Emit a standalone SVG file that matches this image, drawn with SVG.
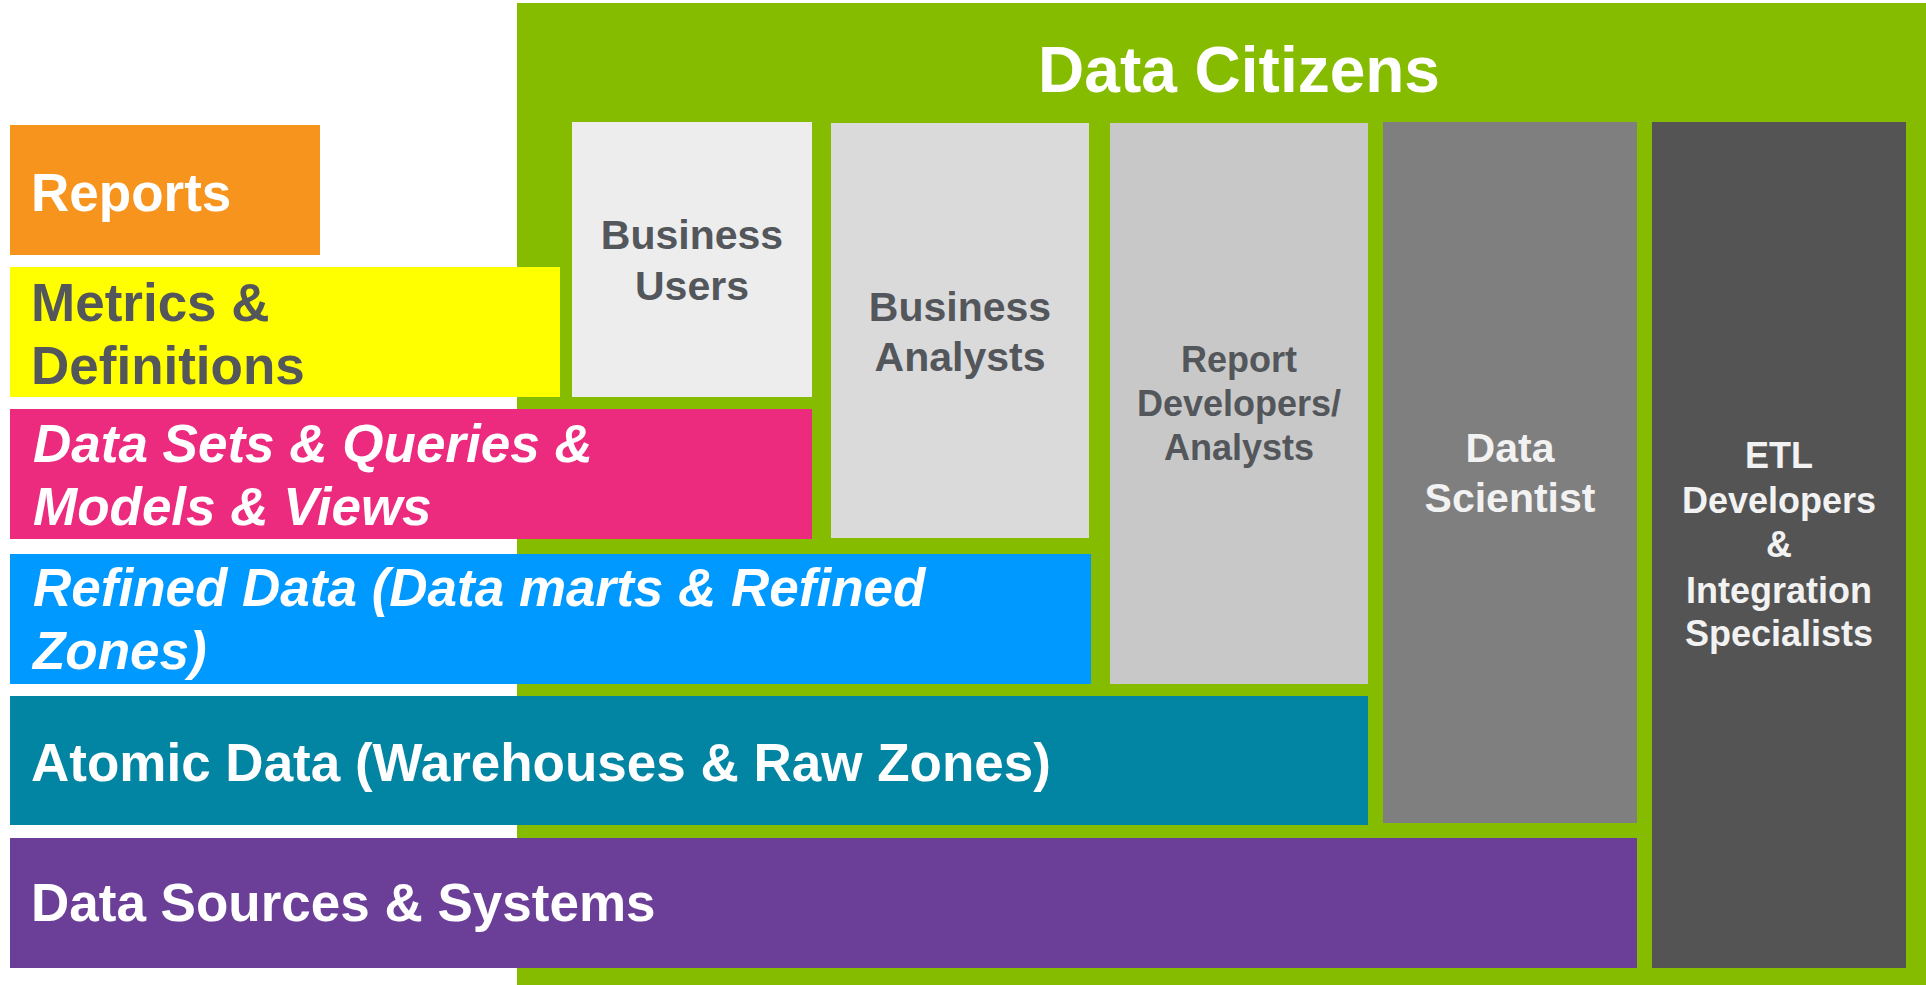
<svg xmlns="http://www.w3.org/2000/svg" width="1926" height="985" viewBox="0 0 1926 985">
<style>
text{font-family:"Liberation Sans",Arial,sans-serif;font-weight:bold}
.l{font-size:53px}
.w{fill:#FFFFFF}
.d{fill:#53565A}
.c{text-anchor:middle}
.it{font-style:italic}
.m{font-size:41px}
.s{font-size:36px}
</style>
<rect width="1926" height="985" fill="#FFFFFF"/>
<g id="data-citizens">
<rect x="517" y="3" width="1409" height="982" fill="#86BC00"/>
<text x="1239" y="92" class="w c" font-size="64">Data Citizens</text>
</g>
<g id="reports">
<rect x="10" y="125" width="310" height="130" fill="#F7941E"/>
<text x="31" y="211" class="l w">Reports</text>
</g>
<g id="metrics">
<rect x="10" y="267" width="550" height="130" fill="#FFFF00"/>
<text x="31" y="321" class="l d">Metrics &amp;</text>
<text x="31" y="384" class="l d">Definitions</text>
</g>
<g id="datasets">
<rect x="10" y="409" width="802" height="130" fill="#EC2A7E"/>
<text x="33" y="462" class="l w it">Data Sets &amp; Queries &amp;</text>
<text x="33" y="525" class="l w it">Models &amp; Views</text>
</g>
<g id="refined">
<rect x="10" y="554" width="1081" height="130" fill="#0099FF"/>
<text x="33" y="606" class="l w it">Refined Data (Data marts &amp; Refined</text>
<text x="33" y="669" class="l w it">Zones)</text>
</g>
<g id="atomic">
<rect x="10" y="696" width="1358" height="129" fill="#0284A3"/>
<text x="31" y="781" class="l w">Atomic Data (Warehouses &amp; Raw Zones)</text>
</g>
<g id="sources">
<rect x="10" y="838" width="1627" height="130" fill="#6B3F98"/>
<text x="31" y="921" class="l w">Data Sources &amp; Systems</text>
</g>
<g id="business-users">
<rect x="572" y="122" width="240" height="275" fill="#EDEDED"/>
<text x="692" y="249" class="m d c">Business</text>
<text x="692" y="300" class="m d c">Users</text>
</g>
<g id="business-analysts">
<rect x="831" y="123" width="258" height="415" fill="#DADADA"/>
<text x="960" y="321" class="m d c">Business</text>
<text x="960" y="371" class="m d c">Analysts</text>
</g>
<g id="report-developers">
<rect x="1110" y="123" width="258" height="561" fill="#C8C8C8"/>
<text x="1239" y="372" class="s d c">Report</text>
<text x="1239" y="416" class="s d c">Developers/</text>
<text x="1239" y="460" class="s d c">Analysts</text>
</g>
<g id="data-scientist">
<rect x="1383" y="122" width="254" height="701" fill="#7F7F7F"/>
<text x="1510" y="462" class="m c" fill="#F2F2F2">Data</text>
<text x="1510" y="512" class="m c" fill="#F2F2F2">Scientist</text>
</g>
<g id="etl">
<rect x="1652" y="122" width="254" height="846" fill="#545454"/>
<text x="1779" y="468" class="s c" fill="#F2F2F2">ETL</text>
<text x="1779" y="513" class="s c" fill="#F2F2F2">Developers</text>
<text x="1779" y="557" class="s c" fill="#F2F2F2">&amp;</text>
<text x="1779" y="603" class="s c" fill="#F2F2F2">Integration</text>
<text x="1779" y="646" class="s c" fill="#F2F2F2">Specialists</text>
</g>
<g id="connectors"></g>
</svg>
